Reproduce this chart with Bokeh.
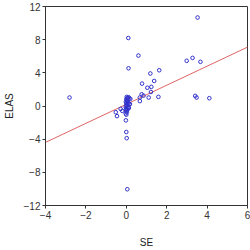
from bokeh.plotting import figure
from bokeh.embed import file_html
from bokeh.resources import INLINE
from bokeh.models import Range1d, FixedTicker

# Data
se = [-2.81, 0.10, 0.60, 0.11, 3.53, 2.99, 3.28, 3.67, 1.19, 1.63, 1.38, 0.78,
      1.04, 1.24, 1.22, 0.76, 0.85, 0.67, 1.11, 1.59, 0.67, 3.41, 3.48, 4.11,
      -0.52, -0.46, -0.28, -0.20, -0.02, 0.00, 0.02, 0.05,
      0.02, 0.05, 0.08, 0.12, 0.15, 0.20, 0.00, 0.03, 0.06, -0.02, 0.01, 0.04,
      0.10, 0.15, 0.00, 0.02, -0.03, 0.05, 0.10, 0.00, -0.02, 0.01, 0.03, -0.03,
      0.00, 0.06, 0.18, 0.13]
elas = [1.02, 8.20, 6.08, 4.55, 10.67, 5.45, 5.80, 5.33, 3.92, 4.31, 3.02, 2.70,
        2.20, 2.31, 1.69, 1.41, 1.25, 1.02, 1.02, 1.10, 0.59, 1.22, 1.02, 0.94,
        -0.75, -1.22, -0.35, -0.59, -1.73, -3.14, -3.88, -10.04,
        1.10, 1.00, 0.95, 1.05, 0.90, 0.85, 0.80, 0.70, 0.60, 0.50, 0.40, 0.30,
        0.35, 0.20, 0.10, 0.00, -0.10, -0.20, -0.15, -0.30, -0.45, -0.60, -0.75, -0.90,
        -1.05, -0.45, 0.24, -0.24]
fit_x = [-4.0, 6.0]
fit_y = [-4.39, 7.10]
x_ticks = [-4, -2, 0, 2, 4, 6]
y_ticks = [-12, -8, -4, 0, 4, 8, 12]

p = figure(width=250, height=250, output_backend="svg", toolbar_location=None,
           x_range=Range1d(-4, 6), y_range=Range1d(-12, 12),
           min_border_left=42, min_border_right=3, min_border_top=6, min_border_bottom=40)
p.background_fill_color = "white"
p.border_fill_color = "white"
p.outline_line_color = "#333333"
p.outline_line_width = 1
p.xgrid.visible = False
p.ygrid.visible = False

p.line(fit_x, fit_y, line_color="#e06464", line_width=1)
p.scatter(se, elas, marker="circle", size=3.6, fill_color=None,
          line_color="#3333cc", line_width=1)

for ax in (p.xaxis[0], p.yaxis[0]):
    ax.axis_line_color = "#333333"
    ax.major_tick_line_color = "#333333"
    ax.major_tick_out = 3
    ax.major_tick_in = 0
    ax.minor_tick_line_color = None
    ax.major_label_text_font = "Liberation Sans"
    ax.major_label_text_font_size = "10px"
    ax.major_label_text_color = "#333333"
    ax.axis_label_text_font = "Liberation Sans"
    ax.axis_label_text_font_size = "10px"
    ax.axis_label_text_font_style = "normal"
    ax.axis_label_text_color = "#222222"

p.xaxis[0].ticker = FixedTicker(ticks=x_ticks)
p.yaxis[0].ticker = FixedTicker(ticks=y_ticks)
p.xaxis[0].axis_label = "SE"
p.yaxis[0].axis_label = "ELAS"
p.xaxis[0].major_label_standoff = 2
p.yaxis[0].major_label_standoff = 2
p.xaxis[0].axis_label_standoff = 15
p.yaxis[0].axis_label_standoff = 6

open("out.html", "w").write(file_html(p, INLINE))
